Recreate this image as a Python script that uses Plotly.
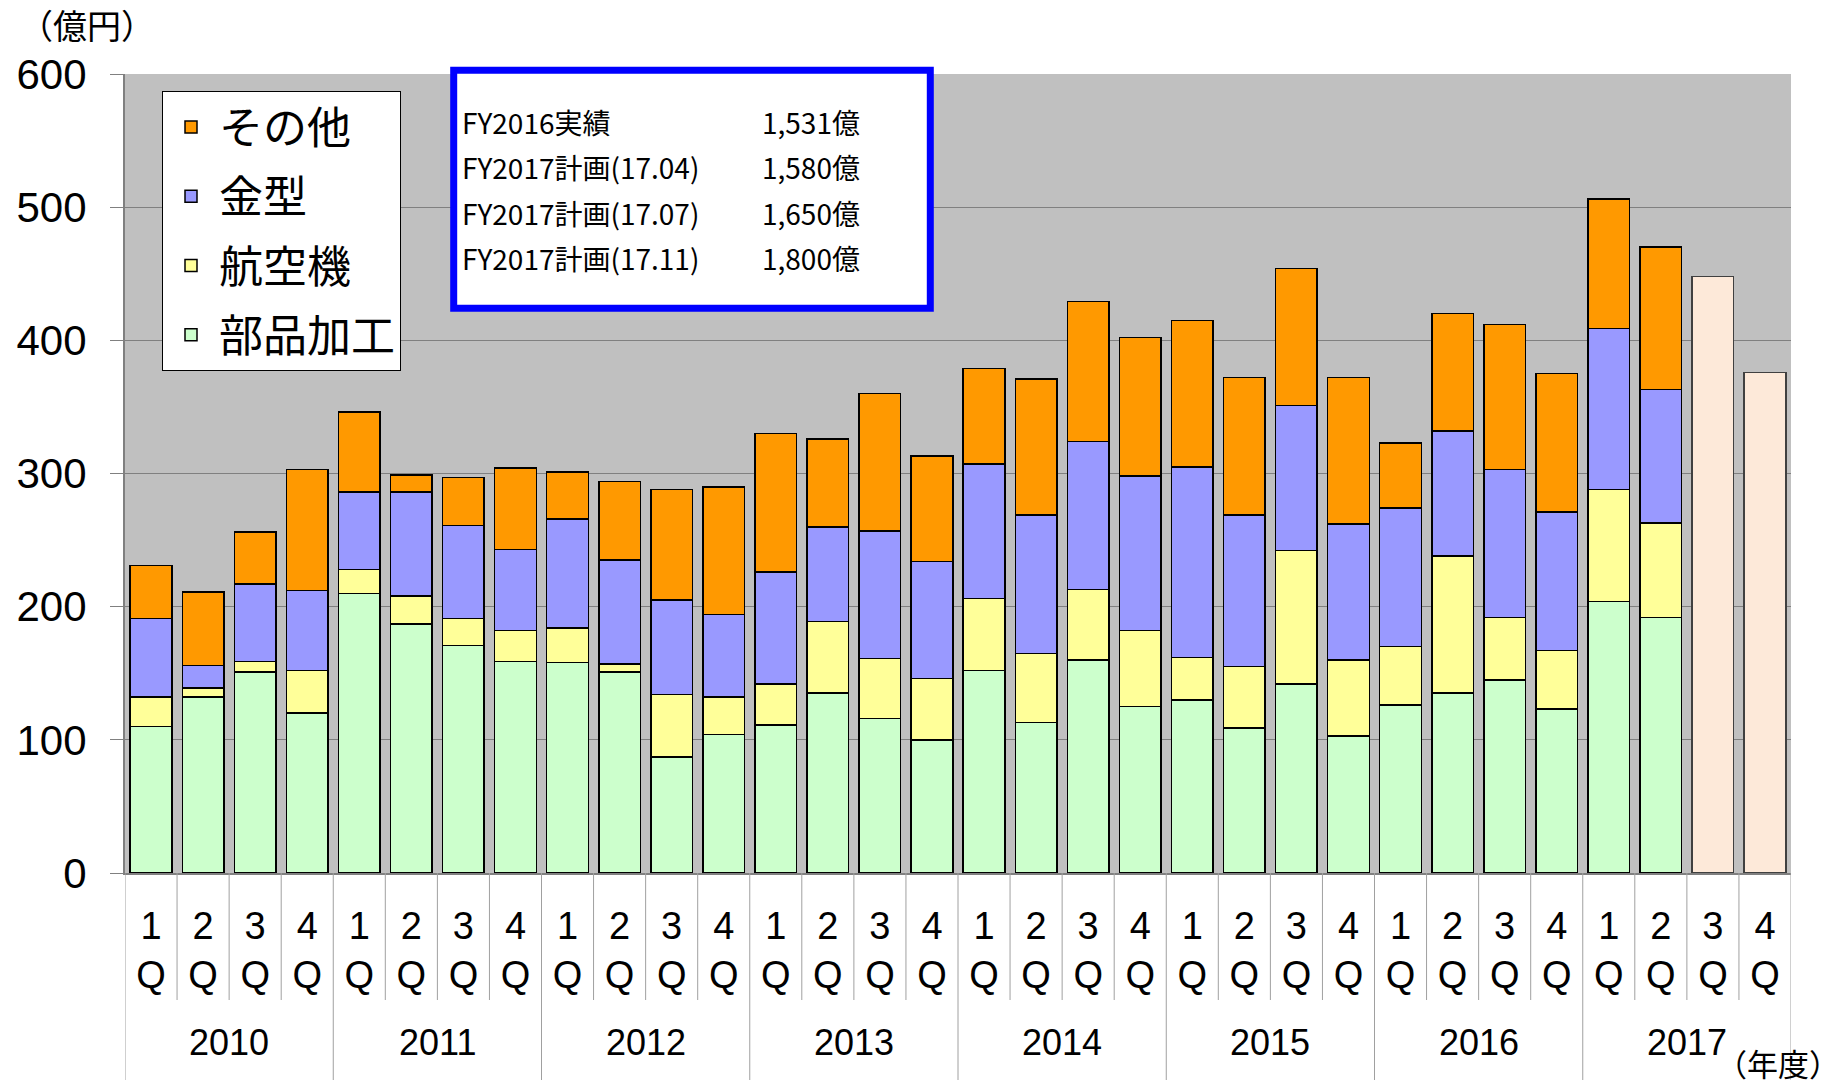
import plotly.graph_objects as go

years = ["2010", "2011", "2012", "2013", "2014", "2015", "2016", "2017"]
quarters = ["1", "2", "3", "4"]

parts = [110, 132, 151, 120, 210, 187, 171, 159, 158, 151, 87, 104,
         111, 135, 116, 100, 152, 113, 160, 125, 130, 109, 142, 103,
         126, 135, 145, 123, 204, 192, None, None]
aero = [22, 7, 8, 32, 18, 21, 20, 23, 26, 6, 47, 28,
        31, 54, 45, 46, 54, 52, 53, 57, 32, 46, 100, 57,
        44, 103, 47, 44, 84, 71, None, None]
mold = [59, 17, 58, 60, 58, 78, 70, 61, 82, 78, 71, 62,
        84, 71, 96, 88, 101, 104, 111, 116, 143, 114, 109, 102,
        104, 94, 111, 104, 121, 100, None, None]
other = [40, 55, 39, 91, 60, 13, 36, 61, 35, 59, 83, 96,
         104, 66, 103, 79, 72, 102, 105, 104, 110, 103, 103, 110,
         49, 88, 109, 104, 97, 107, None, None]
plan = [None] * 30 + [448, 376]

box_labels = ["FY2016実績", "FY2017計画(17.04)", "FY2017計画(17.07)", "FY2017計画(17.11)"]
box_values = ["1,531億", "1,580億", "1,650億", "1,800億"]

cats = [f"{y}-{q}Q" for y in years for q in quarters]
qlabels = [f"{q}<br>Q" for y in years for q in quarters]

W, H = 1845, 1085
ML, MR, MT, MB = 125, 54, 74, 212
PW = W - ML - MR
PH = H - MT - MB


def px_x(p):
    return (p - ML) / PW


def px_y(p):
    return (H - MB - p) / PH


fig = go.Figure()
series = [("部品加工", parts, "#CCFFCC", 4), ("航空機", aero, "#FFFF99", 3),
          ("金型", mold, "#9999FF", 2), ("その他", other, "#FF9900", 1)]
for name, vals, col, rank in series:
    fig.add_trace(go.Bar(x=cats, y=vals, name=name, legendgroup=name, legendrank=rank,
                         marker=dict(color=col, line=dict(color="#000000", width=1.5))))
fig.add_trace(go.Bar(x=cats, y=plan, name="計画", showlegend=False,
                     marker=dict(color="#FDE9D9", line=dict(color="#404040", width=1.5))))

shapes = []
for b in range(len(cats) + 1):
    is_year = b % 4 == 0
    shapes.append(dict(type="line", xref="x", yref="paper", x0=b - 0.5, x1=b - 0.5,
                       y0=0, y1=px_y(1080 if is_year else 1000),
                       line=dict(color="#A0A0A0", width=1), layer="above"))
shapes.append(dict(type="rect", xref="paper", yref="paper",
                   x0=px_x(453.7), x1=px_x(930.3), y0=px_y(308.3), y1=px_y(70.3),
                   line=dict(color="#0000FF", width=7), fillcolor="#FFFFFF", layer="above"))

annotations = []
for i, yr in enumerate(years):
    annotations.append(dict(x=4 * i + 1.5, xref="x", y=px_y(1042), yref="paper",
                            text=yr, showarrow=False, xanchor="center", yanchor="middle",
                            font=dict(family="Liberation Sans", size=36, color="#000")))
rows = [121.5, 167, 212.5, 258]
for lab, val, ry in zip(box_labels, box_values, rows):
    annotations.append(dict(x=px_x(460), xref="paper", y=px_y(ry), yref="paper", text=lab,
                            showarrow=False, xanchor="left", yanchor="middle",
                            font=dict(family="Noto Sans CJK JP", size=28, color="#000")))
    annotations.append(dict(x=px_x(862), xref="paper", y=px_y(ry), yref="paper", text=val,
                            showarrow=False, xanchor="right", yanchor="middle",
                            font=dict(family="Noto Sans CJK JP", size=28, color="#000")))
annotations.append(dict(x=px_x(87), xref="paper", y=px_y(24), yref="paper", text="（億円）",
                        showarrow=False, xanchor="center", yanchor="middle",
                        font=dict(family="Noto Sans CJK JP", size=34, color="#000")))
annotations.append(dict(x=px_x(1842), xref="paper", y=px_y(1062), yref="paper", text="（年度）",
                        showarrow=False, xanchor="right", yanchor="middle",
                        font=dict(family="Noto Sans CJK JP", size=31, color="#000")))

fig.update_layout(
    width=W, height=H,
    margin=dict(l=ML, r=MR, t=MT, b=MB, autoexpand=False),
    barmode="stack", bargap=0.2,
    plot_bgcolor="#C0C0C0", paper_bgcolor="#FFFFFF",
    showlegend=True,
    legend=dict(x=px_x(162), y=px_y(91), xanchor="left", yanchor="top",
                bgcolor="#FFFFFF", bordercolor="#000000", borderwidth=1,
                font=dict(family="Noto Sans CJK JP", size=44, color="#000"),
                traceorder="grouped", tracegroupgap=9, itemwidth=46),
    shapes=shapes, annotations=annotations,
    xaxis=dict(type="category", tickvals=cats, ticktext=qlabels, range=[-0.5, len(cats) - 0.5],
               ticks="", showline=True, linecolor="#808080", linewidth=2, showgrid=False,
               tickfont=dict(family="Liberation Sans", size=38, color="#000"),
               ticklabelstandoff=18),
    yaxis=dict(range=[0, 600], dtick=100, showgrid=True, gridcolor="#808080", gridwidth=1,
               ticks="outside", ticklen=13, tickcolor="#808080", tickwidth=1,
               showline=True, linecolor="#808080", linewidth=2, zeroline=False,
               tickfont=dict(family="Liberation Sans", size=42, color="#000"),
               ticklabelstandoff=15),
)

fig.write_html("out.html", post_script="document.body.style.margin='0px';",
               config={"displayModeBar": False})
